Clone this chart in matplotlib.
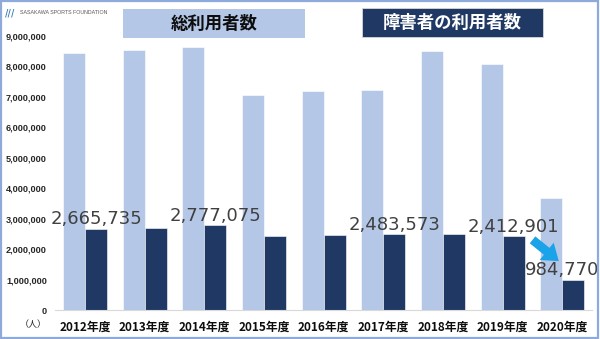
import matplotlib.pyplot as plt
import numpy as np
from matplotlib.patches import Rectangle

plt.rcParams["font.family"] = ["Noto Sans CJK JP", "DejaVu Sans"]

# FISCAL YEARS AND USER COUNTS
years = ["2012年度", "2013年度", "2014年度", "2015年度", "2016年度",
         "2017年度", "2018年度", "2019年度", "2020年度"]
total_users = [8440000, 8520000, 8620000, 7050000, 7180000,
               7210000, 8500000, 8080000, 3680000]
disabled_users = [2665735, 2700000, 2777075, 2430000, 2450000,
                  2483573, 2490000, 2412901, 984770]
labeled = [0, 2, 5, 7, 8]

y_ticks = np.arange(0, 9000001, 1000000)

LIGHT = "#b4c7e7"
DARK = "#1f3864"

fig = plt.figure(figsize=(6.0, 3.39), dpi=100)
ax = fig.add_axes([0.092, 0.0855, 0.895, 0.809])

x = np.arange(len(years))
w = 0.37
ax.bar(x - w / 2, total_users, w, color=LIGHT, edgecolor="white", linewidth=0.4)
ax.bar(x + w / 2, disabled_users, w, color=DARK, edgecolor="white", linewidth=0.4)

ax.set_xlim(-0.5, len(years) - 0.5)
ax.set_ylim(0, 9000000)
ax.set_yticks(y_ticks)
ax.set_yticklabels([f"{v:,}" for v in y_ticks], fontsize=6.6,
                   fontweight="bold", color="#262626", family="Liberation Sans")
ax.set_xticks(x)
ax.set_xticklabels(years, fontsize=8.5, fontweight="bold", color="#0d0d0d")
ax.tick_params(length=0)
ax.tick_params(axis="y", pad=6)
ax.tick_params(axis="x", pad=8)
for side in ["top", "right", "left"]:
    ax.spines[side].set_visible(False)
ax.spines["bottom"].set_color("#d9d9d9")
ax.spines["bottom"].set_linewidth(0.8)

ax.text(-0.015, -0.035, "（人）", transform=ax.transAxes, ha="right",
        va="top", fontsize=6.5, color="#262626")

# VALUE LABELS OVER THE DARK BARS
for i in labeled:
    xpos = i + w / 2 if i < len(years) - 1 else i
    ax.annotate(f"{disabled_users[i]:,}", (xpos, disabled_users[i]),
                xytext=(0, 0.5), textcoords="offset points",
                ha="center", va="bottom", fontsize=13, color="#404040",
                family="DejaVu Sans")

# ARROW POINTING TO THE 2020 DROP
ax.annotate("", xy=(len(years) - 1.06, disabled_users[-1] + 620000),
            xytext=(len(years) - 1.5, disabled_users[-2] - 110000),
            arrowprops=dict(arrowstyle="simple,head_width=1.0,head_length=0.7,tail_width=0.4",
                            mutation_scale=16, color="#1aa3e8", lw=0,
                            shrinkA=0, shrinkB=0))

# LEGEND BOXES
fig.patches.append(Rectangle((123 / 600, 1 - 38 / 339), 182 / 600, 29 / 339,
                             transform=fig.transFigure, fc=LIGHT, ec="none"))
fig.patches.append(Rectangle((362 / 600, 1 - 37 / 339), 181 / 600, 29 / 339,
                             transform=fig.transFigure, fc=DARK, ec="#d9d9d9",
                             lw=0.6))
fig.text(214 / 600, 1 - 23.5 / 339, "総利用者数", ha="center", va="center",
         fontsize=12.5, fontweight="bold", color="#0d0d0d")
fig.text(452 / 600, 1 - 22.5 / 339, "障害者の利用者数", ha="center",
         va="center", fontsize=12.5, fontweight="bold", color="white")

# FOUNDATION MARK
fig.text(0.008, 0.962, "///", ha="left", va="center", fontsize=6.5,
         fontweight="bold", style="italic", color="#2e75b6")
fig.text(0.034, 0.962, "SASAKAWA SPORTS FOUNDATION", ha="left",
         va="center", fontsize=3.8, color="#595959", family="Liberation Sans")

# FRAME
fig.patches.append(Rectangle((0.001, 0.003), 0.995, 0.993,
                             transform=fig.transFigure, fill=False,
                             ec="#8eaadb", lw=1.6))

plt.savefig("out.png", dpi=100)
